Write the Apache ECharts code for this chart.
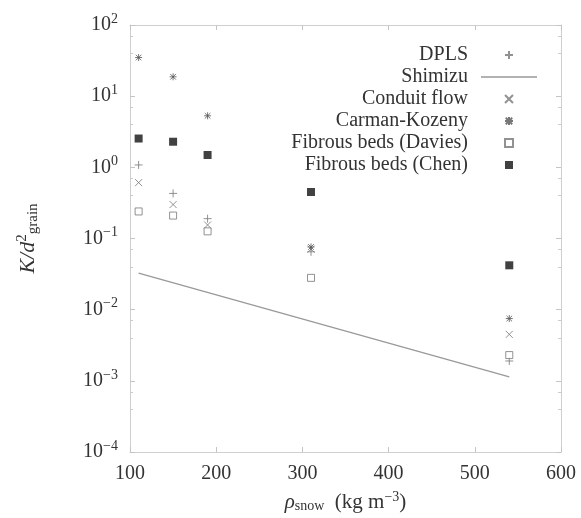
<!DOCTYPE html>
<html>
<head>
<meta charset="utf-8">
<script src="https://cdn.jsdelivr.net/npm/echarts@6/dist/echarts.min.js"></script>
<style>
html,body{margin:0;padding:0;background:#fff;}
#main{width:581px;height:518px;}
</style>
</head>
<body>
<div id="main"></div>
<script>
// Data
const rho = [110, 150, 190, 310, 540];
const dpls = [1.08, 0.43, 0.19, 0.065, 0.0019];
const conduit = [0.61, 0.30, 0.155, 0.071, 0.0045];
const carman = [34.9, 18.7, 5.3, 0.076, 0.0075];
const davies = [0.24, 0.21, 0.126, 0.028, 0.0023];
const chen = [2.54, 2.29, 1.49, 0.45, 0.042];
const shimizuRho = [110, 540];
const shimizu = [0.0326, 0.00114];
const xTicks = [100, 200, 300, 400, 500, 600];
const yExponents = [-4, -3, -2, -1, 0, 1, 2];
const legendNames = ['DPLS', 'Shimizu', 'Conduit flow', 'Carman-Kozeny', 'Fibrous beds (Davies)', 'Fibrous beds (Chen)'];

const FONT = 'Liberation Serif';
const TXT = '#333';
const pair = (xs, ys) => xs.map((x, i) => [x, ys[i]]);

const plusSym = 'path://M5,0L5,10M0,5L10,5';
const crossSym = 'path://M0,0L10,10M10,0L0,10';
const starSym = 'path://M5,0L5,10M0,5L10,5M1,1L9,9M9,1L1,9';
const squareSym = 'path://M0,0L10,0L10,10L0,10Z';
const lineIcon = 'path://M0,0L56,0L56,1.3L0,1.3Z';

function yFmt(v) {
  const e = Math.round(Math.log10(v));
  if (yExponents.indexOf(e) < 0) return '';
  return '{b|10}{s|' + (e < 0 ? '\u2212' + (-e) : e) + '}';
}

const chart = echarts.init(document.getElementById('main'), null, {renderer: 'canvas'});
const frameLine = {show: true, lineStyle: {color: '#cfcfcf', width: 1}};
const tickStyle = {show: true, inside: true, length: 5, lineStyle: {color: '#c4c4c4', width: 1}};
const minorStyle = {show: true, splitNumber: 3, length: 3, lineStyle: {color: '#cccccc', width: 1}};

chart.setOption({
  animation: false,
  backgroundColor: '#fff',
  textStyle: {fontFamily: FONT, color: TXT},
  grid: {left: 130, right: 20, top: 25, bottom: 64, containLabel: false},
  legend: {
    data: legendNames.map(n => n === 'Shimizu'
      ? {name: n, icon: lineIcon, itemStyle: {color: '#999'}}
      : {name: n}),
    orient: 'vertical',
    align: 'right',
    right: 39,
    top: 40,
    itemWidth: 56,
    itemHeight: 8,
    itemGap: 2,
    symbolKeepAspect: true,
    textStyle: {fontFamily: FONT, fontSize: 20, color: TXT, padding: [0, 8, 0, 0]},
    selectedMode: false
  },
  xAxis: [{
    type: 'value', min: xTicks[0], max: xTicks[xTicks.length - 1], interval: 100,
    axisLine: frameLine, axisTick: tickStyle, splitLine: {show: false},
    axisLabel: {fontFamily: FONT, fontSize: 20, color: TXT, margin: 12},
    name: '{i|\u03C1}{sub|snow}{n|  (kg m}{sup|\u22123}{n|)}',
    nameLocation: 'middle', nameGap: 38,
    nameTextStyle: {
      rich: {
        i: {fontFamily: FONT, fontStyle: 'italic', fontSize: 21, color: TXT, verticalAlign: 'middle'},
        sub: {fontFamily: FONT, fontSize: 14, color: TXT, padding: [8, 0, 0, 0]},
        n: {fontFamily: FONT, fontSize: 21, color: TXT},
        sup: {fontFamily: FONT, fontSize: 14, color: TXT, padding: [0, 0, 10, 0]}
      }
    }
  }, {
    type: 'value', position: 'top', min: 100, max: 600, interval: 100,
    axisLine: frameLine, axisTick: tickStyle, axisLabel: {show: false}, splitLine: {show: false}
  }],
  yAxis: [{
    type: 'log', logBase: 10, min: 1e-4, max: 100, splitNumber: 6,
    axisLine: frameLine, axisTick: tickStyle, minorTick: minorStyle, splitLine: {show: false},
    axisLabel: {
      formatter: yFmt, margin: 12,
      rich: {
        b: {fontFamily: FONT, fontSize: 20, color: TXT},
        s: {fontFamily: FONT, fontSize: 14, color: TXT, padding: [0, 0, 12, 0]}
      }
    },
    name: '{i|K/d}{sup|2}{sub|grain}',
    nameLocation: 'middle', nameGap: 88, nameRotate: 90,
    nameTextStyle: {
      rich: {
        i: {fontFamily: FONT, fontStyle: 'italic', fontSize: 22, color: TXT},
        sup: {fontFamily: FONT, fontSize: 15, color: TXT, padding: [0, 0, 12, 0]},
        sub: {fontFamily: FONT, fontSize: 15, color: TXT, padding: [10, 0, 0, 0]}
      }
    }
  }, {
    type: 'log', logBase: 10, min: 1e-4, max: 100, splitNumber: 6, position: 'right',
    axisLine: frameLine, axisTick: tickStyle, minorTick: minorStyle, splitLine: {show: false},
    axisLabel: {show: false}
  }],
  series: [
    {name: 'Shimizu', type: 'line', data: pair(shimizuRho, shimizu), showSymbol: false, symbol: 'none',
     lineStyle: {color: '#999', width: 1.3}, itemStyle: {color: '#999'}, z: 1},
    {name: 'DPLS', type: 'scatter', data: pair(rho, dpls), symbol: plusSym, symbolSize: 8, symbolKeepAspect: true,
     itemStyle: {color: '#777', borderColor: '#777', borderWidth: 1}},
    {name: 'Conduit flow', type: 'scatter', data: pair(rho, conduit), symbol: crossSym, symbolSize: 7, symbolKeepAspect: true,
     itemStyle: {color: '#777', borderColor: '#777', borderWidth: 1}},
    {name: 'Carman-Kozeny', type: 'scatter', data: pair(rho, carman), symbol: starSym, symbolSize: 7, symbolKeepAspect: true,
     itemStyle: {color: '#555', borderColor: '#555', borderWidth: 1}},
    {name: 'Fibrous beds (Davies)', type: 'scatter', data: pair(rho, davies), symbol: squareSym, symbolSize: 7, symbolKeepAspect: true,
     itemStyle: {color: '#fff', borderColor: '#777', borderWidth: 1}},
    {name: 'Fibrous beds (Chen)', type: 'scatter', data: pair(rho, chen), symbol: squareSym, symbolSize: 8, symbolKeepAspect: true,
     itemStyle: {color: '#111', borderColor: '#111', borderWidth: 0}}
  ]
});
</script>
</body>
</html>
